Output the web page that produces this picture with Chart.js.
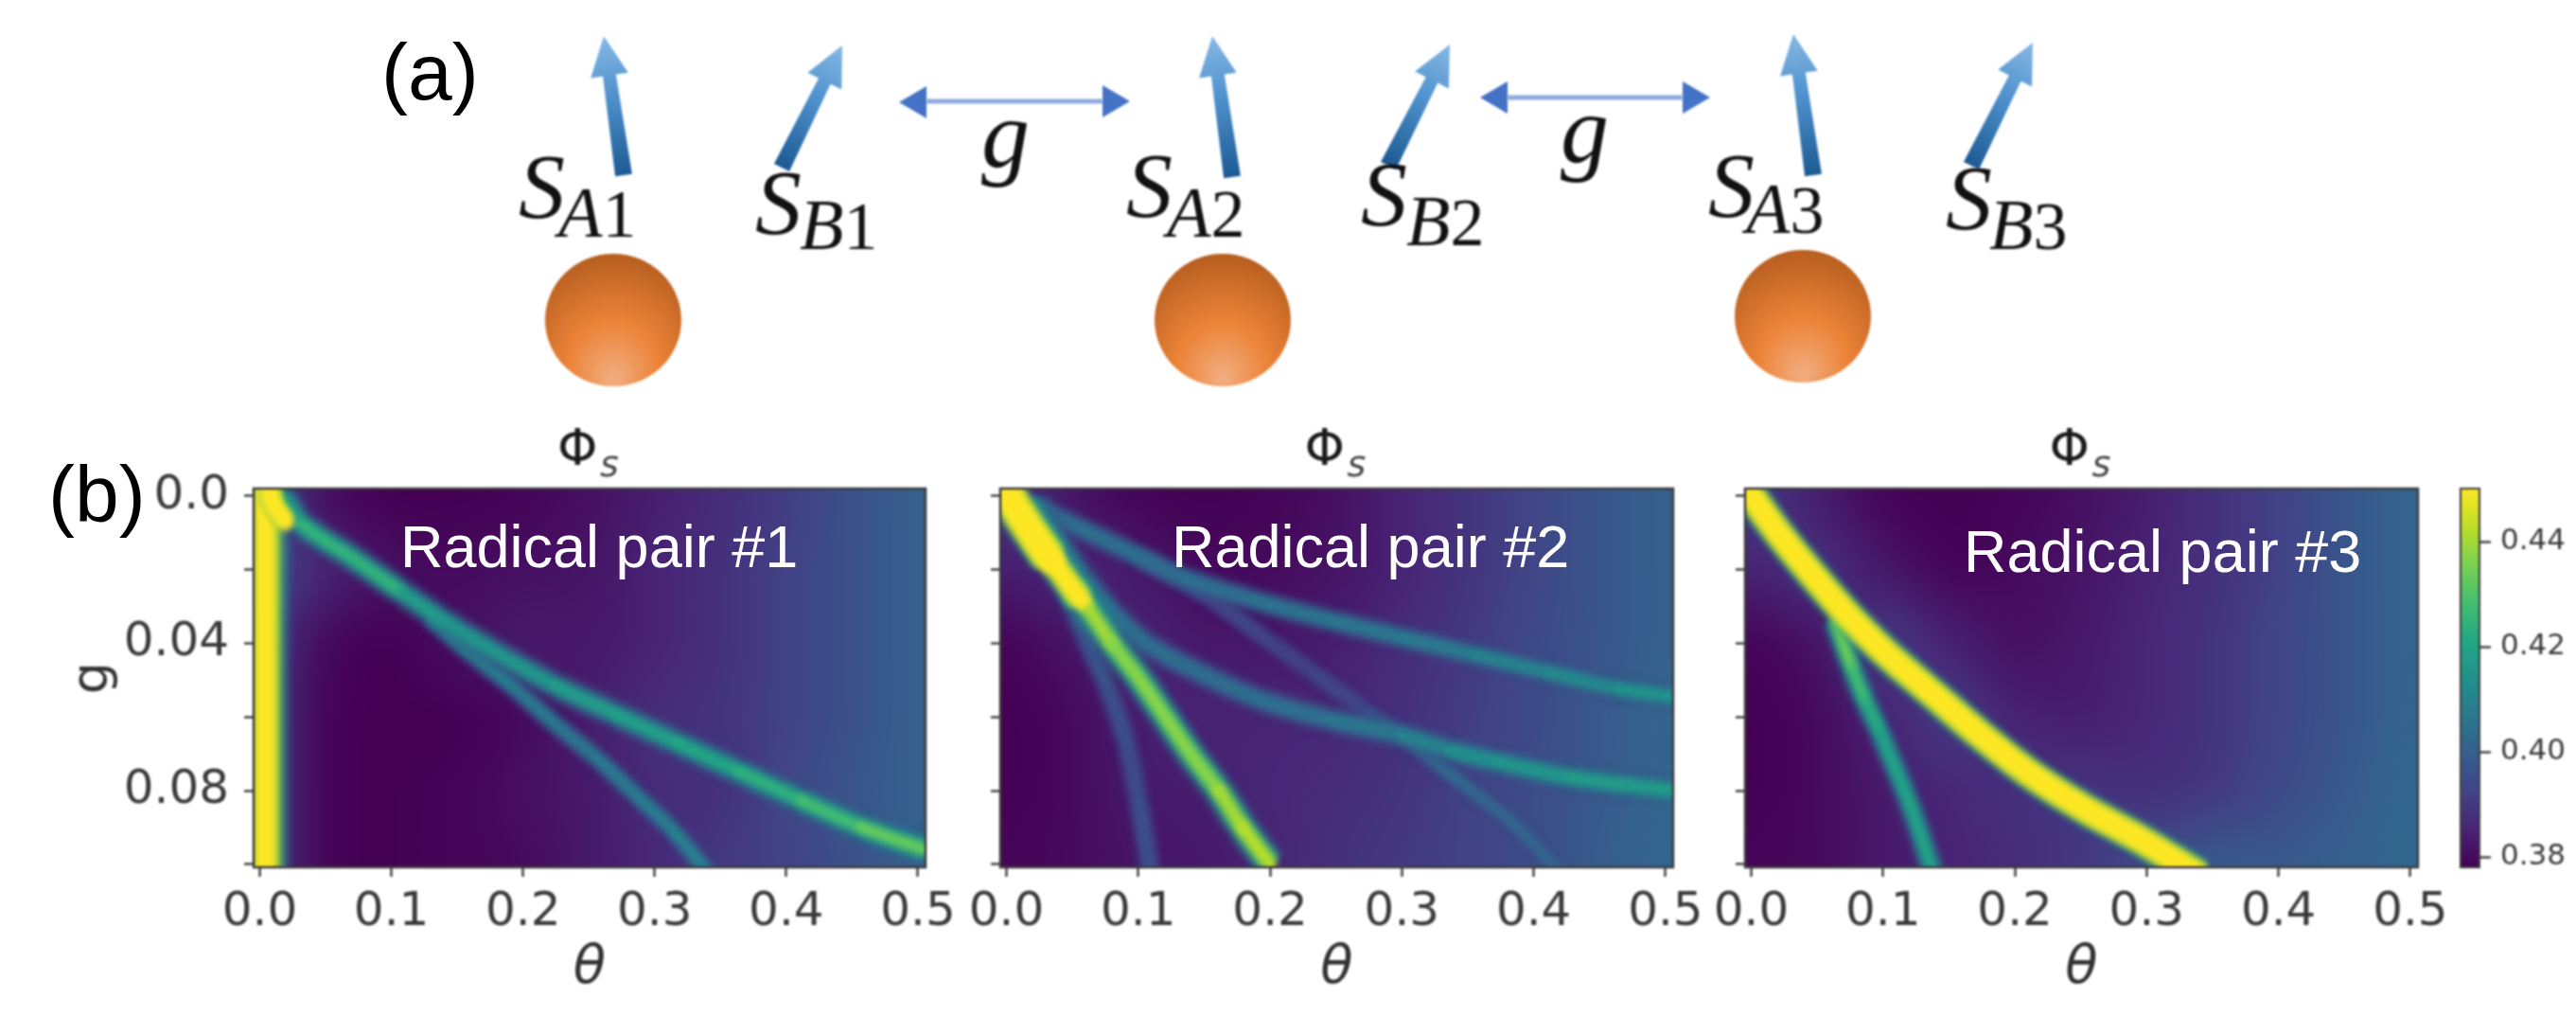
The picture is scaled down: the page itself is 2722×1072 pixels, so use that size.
<!DOCTYPE html>
<html>
<head>
<meta charset="utf-8">
<title>Radical pairs</title>
<script src="https://cdn.jsdelivr.net/npm/chart.js@4"></script>
<style>
  html, body { margin: 0; padding: 0; background: #fff; width: 2722px; height: 1072px; overflow: hidden; }
  canvas { position: absolute; }
  .soft { filter: blur(1.3px); }
</style>
</head>
<body>
<script>
// axis ticks
const thetaTicks = [0, 0.1, 0.2, 0.3, 0.4, 0.5];
const gTicks = [0, 0.02, 0.04, 0.06, 0.08, 0.1];
const gTickLabels = ["0.0", "", "0.04", "", "0.08", ""];
const barTicks = [0.38, 0.4, 0.42, 0.44];
const barMin = 0.3781;
const barMax = 0.4501;

// background of each panel, read at every theta = 0, 0.05 .. 0.5 (columns) and g = 0, 0.02 .. 0.1 (rows)
const panel1Grid = [
  [0.395, 0.381, 0.378, 0.378, 0.379, 0.381, 0.384, 0.387, 0.391, 0.396, 0.4],
  [0.395, 0.385, 0.381, 0.38, 0.381, 0.382, 0.385, 0.388, 0.392, 0.396, 0.4],
  [0.39, 0.38, 0.378, 0.381, 0.383, 0.383, 0.385, 0.388, 0.392, 0.396, 0.4],
  [0.39, 0.379, 0.378, 0.378, 0.38, 0.384, 0.387, 0.389, 0.392, 0.396, 0.4],
  [0.39, 0.379, 0.378, 0.379, 0.381, 0.383, 0.387, 0.388, 0.393, 0.397, 0.4],
  [0.39, 0.379, 0.378, 0.379, 0.38, 0.383, 0.386, 0.39, 0.392, 0.396, 0.4],
];
const panel2Grid = [
  [0.39, 0.382, 0.379, 0.378, 0.379, 0.381, 0.385, 0.389, 0.393, 0.397, 0.4],
  [0.384, 0.386, 0.383, 0.38, 0.38, 0.382, 0.385, 0.389, 0.393, 0.397, 0.4],
  [0.379, 0.382, 0.385, 0.383, 0.383, 0.384, 0.387, 0.39, 0.394, 0.397, 0.4],
  [0.378, 0.38, 0.384, 0.385, 0.385, 0.386, 0.388, 0.391, 0.394, 0.398, 0.401],
  [0.378, 0.38, 0.383, 0.384, 0.386, 0.387, 0.389, 0.392, 0.395, 0.398, 0.401],
  [0.379, 0.38, 0.382, 0.383, 0.385, 0.388, 0.39, 0.392, 0.395, 0.399, 0.402],
];
const panel3Grid = [
  [0.39, 0.384, 0.379, 0.378, 0.379, 0.381, 0.384, 0.388, 0.392, 0.397, 0.401],
  [0.385, 0.388, 0.383, 0.379, 0.38, 0.382, 0.385, 0.388, 0.392, 0.397, 0.401],
  [0.379, 0.382, 0.39, 0.385, 0.381, 0.383, 0.386, 0.389, 0.393, 0.397, 0.401],
  [0.378, 0.38, 0.385, 0.39, 0.385, 0.384, 0.386, 0.389, 0.393, 0.397, 0.401],
  [0.378, 0.38, 0.383, 0.386, 0.388, 0.389, 0.388, 0.39, 0.394, 0.398, 0.402],
  [0.379, 0.38, 0.383, 0.385, 0.387, 0.39, 0.394, 0.398, 0.398, 0.4, 0.402],
];

// ridges, panel 1
const p1BandTheta = [0.004, 0.004, 0.004, 0.004, 0.004, 0.004];
const p1BandG = [-0.003, 0.02, 0.04, 0.06, 0.08, 0.103];
const p1BandPeak = [0.46, 0.46, 0.46, 0.46, 0.46, 0.46];
const p1BlobTheta = [0.006, 0.01, 0.019];
const p1BlobG = [-0.003, 0.002, 0.0068];
const p1BlobPeak = [0.46, 0.46, 0.45];
const p1MainTheta = [0.018, 0.032, 0.069, 0.107, 0.139, 0.177, 0.224, 0.27, 0.317, 0.364, 0.411, 0.457, 0.506];
const p1MainG = [0.0004, 0.0077, 0.0165, 0.0259, 0.0337, 0.042, 0.0514, 0.0592, 0.067, 0.0748, 0.0826, 0.0899, 0.0961];
const p1MainPeak = [0.42, 0.425, 0.425, 0.418, 0.416, 0.416, 0.418, 0.419, 0.421, 0.424, 0.428, 0.433, 0.44];
const p1SideTheta = [0.13, 0.158, 0.191, 0.224, 0.256, 0.287, 0.314, 0.342];
const p1SideG = [0.033, 0.042, 0.0514, 0.0618, 0.0712, 0.0816, 0.0909, 0.103];
const p1SidePeak = [0.412, 0.41, 0.408, 0.407, 0.408, 0.409, 0.41, 0.41];

// ridges, panel 2
const p2HeadTheta = [-0.003, 0.005, 0.021, 0.033];
const p2HeadG = [-0.004, 0.002, 0.0108, 0.017];
const p2HeadPeak = [0.46, 0.46, 0.46, 0.46];
const p2NeckTheta = [0.021, 0.04, 0.056];
const p2NeckG = [0.0108, 0.0202, 0.028];
const p2NeckPeak = [0.46, 0.46, 0.45];
const p2TailTheta = [0.05, 0.06, 0.08, 0.1, 0.12, 0.14, 0.161, 0.179, 0.2];
const p2TailG = [0.025, 0.0295, 0.04, 0.0493, 0.0597, 0.0701, 0.08, 0.0899, 0.1];
const p2TailPeak = [0.45, 0.44, 0.437, 0.437, 0.437, 0.437, 0.44, 0.442, 0.445];
const p2TopTheta = [0.025, 0.062, 0.098, 0.135, 0.19, 0.245, 0.3, 0.355, 0.41, 0.465, 0.506];
const p2TopG = [0.0035, 0.0098, 0.016, 0.0223, 0.0285, 0.0337, 0.0384, 0.0431, 0.0478, 0.0524, 0.0545];
const p2TopPeak = [0.405, 0.405, 0.404, 0.405, 0.406, 0.407, 0.408, 0.41, 0.412, 0.415, 0.418];
const p2MidTheta = [0.021, 0.054, 0.08, 0.106, 0.142, 0.19, 0.245, 0.3, 0.337, 0.373, 0.428, 0.506];
const p2MidG = [0.0015, 0.0202, 0.0316, 0.04, 0.0472, 0.055, 0.0607, 0.0649, 0.0691, 0.0722, 0.0764, 0.08];
const p2MidPeak = [0.408, 0.407, 0.405, 0.404, 0.404, 0.405, 0.407, 0.41, 0.414, 0.416, 0.418, 0.422];
const p2FaintTheta = [0.098, 0.153, 0.197, 0.234, 0.274, 0.311, 0.351, 0.384, 0.422];
const p2FaintG = [0.016, 0.0275, 0.0389, 0.0483, 0.0587, 0.0681, 0.0795, 0.0888, 0.103];
const p2FaintPeak = [0.395, 0.393, 0.392, 0.393, 0.396, 0.403, 0.402, 0.402, 0.402];
const p2LowTheta = [0.04, 0.058, 0.076, 0.091, 0.1, 0.11];
const p2LowG = [0.0202, 0.0368, 0.0514, 0.067, 0.0826, 0.103];
const p2LowPeak = [0.4, 0.397, 0.396, 0.395, 0.396, 0.398];

// ridges, panel 3
const p3MainTheta = [-0.006, 0.02, 0.046, 0.074, 0.1, 0.137, 0.174, 0.211, 0.252, 0.294, 0.34];
const p3MainG = [-0.003, 0.0098, 0.0212, 0.0327, 0.042, 0.0535, 0.0649, 0.0753, 0.0847, 0.093, 0.103];
const p3MainPeak = [0.46, 0.46, 0.46, 0.46, 0.46, 0.46, 0.46, 0.46, 0.46, 0.46, 0.46];
const p3SideTheta = [0.0635, 0.076, 0.0865, 0.096, 0.106, 0.1145, 0.1245, 0.1385];
const p3SideG = [0.0337, 0.0462, 0.0556, 0.0628, 0.0712, 0.0784, 0.0878, 0.103];
const p3SidePeak = [0.434, 0.428, 0.423, 0.42, 0.42, 0.42, 0.42, 0.42];

// viridis at 0, 0.1 .. 1
const viridisStops = [[68, 1, 84], [72, 36, 117], [65, 68, 135], [53, 95, 141], [42, 120, 142], [33, 145, 140], [34, 168, 132], [68, 191, 112], [122, 209, 81], [189, 223, 38], [253, 231, 37]];

function viridis(v) {
  let t = (v - barMin) / (barMax - barMin);
  t = Math.max(0, Math.min(1, t)) * 10;
  const i = Math.min(9, Math.floor(t));
  const f = t - i;
  return viridisStops[i].map((c, k) => Math.round(c + (viridisStops[i + 1][k] - c) * f));
}
function rgba(v, a) {
  const c = viridis(v);
  return "rgba(" + c[0] + "," + c[1] + "," + c[2] + "," + a + ")";
}

const numberFont = "'DejaVu Sans'";
const inkColor = "#3a3a3a";
const panelTop = 516;
const panelBottom = 916;
const panelLeftRoom = 203;
const panelRightRoom = 60;

const panels = [
  {
    id: "p1", left: 268, right: 978, grid: panel1Grid, showG: true,
    ridges: [
      { t: p1SideTheta, g: p1SideG, p: p1SidePeak, w: 8, extra: 18 },
      { t: p1MainTheta, g: p1MainG, p: p1MainPeak, w: 11, extra: 24 },
      { t: p1BandTheta, g: p1BandG, p: p1BandPeak, w: 21, extra: 34 },
      { t: p1BlobTheta, g: p1BlobG, p: p1BlobPeak, w: 20, extra: 0 },
    ],
  },
  {
    id: "p2", left: 1057, right: 1768, grid: panel2Grid, showG: false,
    ridges: [
      { t: p2LowTheta, g: p2LowG, p: p2LowPeak, w: 8, extra: 20 },
      { t: p2FaintTheta, g: p2FaintG, p: p2FaintPeak, w: 8, extra: 16 },
      { t: p2TopTheta, g: p2TopG, p: p2TopPeak, w: 10, extra: 20 },
      { t: p2MidTheta, g: p2MidG, p: p2MidPeak, w: 11, extra: 22 },
      { t: p2TailTheta, g: p2TailG, p: p2TailPeak, w: 14, extra: 24 },
      { t: p2NeckTheta, g: p2NeckG, p: p2NeckPeak, w: 20, extra: 18 },
      { t: p2HeadTheta, g: p2HeadG, p: p2HeadPeak, w: 30, extra: 16 },
    ],
  },
  {
    id: "p3", left: 1844, right: 2555, grid: panel3Grid, showG: false,
    ridges: [
      { t: p3SideTheta, g: p3SideG, p: p3SidePeak, w: 10, extra: 20 },
      { t: p3MainTheta, g: p3MainG, p: p3MainPeak, w: 24, extra: 16 },
    ],
  },
];

// heatmap background, placed through the chart's scales
const heatmapPlugin = {
  id: "heatmap",
  beforeDatasetsDraw(chart, args, opts) {
    const grid = opts.grid;
    const rows = grid.length, cols = grid[0].length;
    const off = document.createElement("canvas");
    off.width = cols; off.height = rows;
    const octx = off.getContext("2d");
    const img = octx.createImageData(cols, rows);
    grid.forEach((row, r) => row.forEach((v, c) => {
      const col = viridis(v);
      const k = (r * cols + c) * 4;
      img.data[k] = col[0]; img.data[k + 1] = col[1]; img.data[k + 2] = col[2]; img.data[k + 3] = 255;
    }));
    octx.putImageData(img, 0, 0);
    const x0 = chart.scales.x.getPixelForValue(0), x1 = chart.scales.x.getPixelForValue(0.5);
    const y0 = chart.scales.y.getPixelForValue(0), y1 = chart.scales.y.getPixelForValue(0.1);
    const dx = (x1 - x0) / (cols - 1), dy = (y1 - y0) / (rows - 1);
    const a = chart.chartArea, ctx = chart.ctx;
    ctx.save();
    ctx.beginPath();
    ctx.rect(a.left, a.top, a.width, a.height);
    ctx.clip();
    ctx.imageSmoothingEnabled = true;
    ctx.imageSmoothingQuality = "high";
    ctx.drawImage(off, x0 - dx / 2, y0 - dy / 2, dx * cols, dy * rows);
    ctx.restore();
    // the ridges that follow are painted soft
    ctx.filter = "blur(3px)";
  },
  afterDatasetsDraw(chart) {
    const a = chart.chartArea, ctx = chart.ctx;
    ctx.filter = "none";
    ctx.save();
    ctx.strokeStyle = "#3c3c3c";
    ctx.lineWidth = 2.5;
    ctx.strokeRect(a.left, a.top, a.width, a.height);
    ctx.restore();
  },
  afterDraw(chart) {
    // panel title, Phi with subscript s
    const a = chart.chartArea, ctx = chart.ctx;
    const cx = (a.left + a.right) / 2 - 34;
    ctx.save();
    ctx.fillStyle = "#1a1a1a";
    ctx.textBaseline = "alphabetic";
    ctx.textAlign = "left";
    ctx.font = "54px " + numberFont;
    ctx.fillText("Φ", cx, 51);
    ctx.fillStyle = "#444";
    ctx.font = "italic 38px " + numberFont;
    ctx.fillText("s", cx + 45, 63);
    ctx.restore();
  },
};

// one ridge becomes a few stacked strokes, wide and faint below, narrow and full on top
function ridgeDatasets(r) {
  const points = r.t.map((t, i) => ({ x: t, y: r.g[i] }));
  const layers = [
    { add: 1, mix: 0.3, alpha: 0.3 },
    { add: 0.66, mix: 0.5, alpha: 0.5 },
    { add: 0.33, mix: 0.75, alpha: 0.8 },
    { add: 0, mix: 1, alpha: 1 },
  ];
  return layers.map((l) => ({
    data: points,
    showLine: true,
    pointRadius: 0,
    tension: 0.3,
    clip: 0,
    borderWidth: r.w + r.extra * l.add,
    borderCapStyle: l.alpha === 1 ? "round" : "butt",
    borderColor: rgba(r.p[0], l.alpha),
    segment: {
      borderColor: (ctx) => {
        const v = r.p[ctx.p0DataIndex];
        return rgba(0.39 + (v - 0.39) * l.mix, l.alpha);
      },
    },
  }));
}

function addCanvas(id, left, top, width, height, soft) {
  const c = document.createElement("canvas");
  c.id = id;
  c.width = width; c.height = height;
  c.style.left = left + "px"; c.style.top = top + "px";
  c.style.width = width + "px"; c.style.height = height + "px";
  if (soft) c.className = "soft";
  document.body.appendChild(c);
  return c.getContext("2d");
}

panels.forEach((p) => {
  const canvasLeft = p.left - panelLeftRoom;
  const canvasTop = 440;
  const width = panelLeftRoom + (p.right - p.left) + panelRightRoom;
  const ctx = addCanvas(p.id, canvasLeft, canvasTop, width, 632, true);
  let datasets = [];
  p.ridges.forEach((r) => { datasets = datasets.concat(ridgeDatasets(r)); });
  datasets.reverse(); // chart.js paints the first dataset last
  new Chart(ctx, {
    type: "scatter",
    data: { datasets: datasets },
    plugins: [heatmapPlugin],
    options: {
      responsive: false,
      animation: false,
      devicePixelRatio: 1,
      layout: { padding: { top: panelTop - canvasTop, right: panelRightRoom, left: 0, bottom: 0 } },
      plugins: { legend: { display: false }, tooltip: { enabled: false }, heatmap: { grid: p.grid } },
      scales: {
        x: {
          type: "linear",
          min: -0.0047,
          max: 0.5058,
          afterBuildTicks: (axis) => { axis.ticks = thetaTicks.map((v) => ({ value: v })); },
          afterFit: (axis) => { axis.height = 1072 - panelBottom; },
          grid: { drawOnChartArea: false, drawTicks: true, tickLength: 10, tickColor: "#444", tickWidth: 2.5 },
          border: { display: false },
          ticks: {
            callback: (v) => v.toFixed(1),
            autoSkip: false,
            maxRotation: 0,
            padding: 8,
            color: inkColor,
            font: { family: numberFont, size: 50 },
          },
          title: {
            display: true,
            text: "θ",
            color: "#333",
            font: { family: numberFont, size: 56, style: "italic" },
            padding: { top: 0, bottom: 15 },
          },
        },
        y: {
          type: "linear",
          reverse: true,
          min: -0.002,
          max: 0.1008,
          afterBuildTicks: (axis) => { axis.ticks = gTicks.map((v) => ({ value: v })); },
          afterFit: (axis) => { axis.width = panelLeftRoom; },
          grid: { drawOnChartArea: false, drawTicks: true, tickLength: 10, tickColor: "#444", tickWidth: 2.5 },
          border: { display: false },
          ticks: {
            callback: (v, i) => (p.showG ? gTickLabels[i] : ""),
            autoSkip: false,
            padding: 16,
            color: inkColor,
            font: { family: numberFont, size: 50 },
          },
          title: {
            display: p.showG,
            text: "g",
            color: "#333",
            font: { family: numberFont, size: 54 },
            padding: 2,
          },
        },
      },
    },
  });
});

// colour bar
const barCtx = addCanvas("colorbar", 2590, 440, 132, 632, true);
new Chart(barCtx, {
  type: "bar",
  data: {
    labels: ["Φs"],
    datasets: [{
      data: [[barMin, barMax]],
      barPercentage: 1,
      categoryPercentage: 1,
      backgroundColor: (c) => {
        const a = c.chart.chartArea;
        if (!a) return "#444";
        const grad = c.chart.ctx.createLinearGradient(0, a.bottom, 0, a.top);
        viridisStops.forEach((s, i) => grad.addColorStop(i / 10, "rgb(" + s.join(",") + ")"));
        return grad;
      },
    }],
  },
  plugins: [{
    id: "barFrame",
    afterDatasetsDraw(chart) {
      const a = chart.chartArea, ctx = chart.ctx;
      ctx.save();
      ctx.strokeStyle = "#3c3c3c";
      ctx.lineWidth = 2;
      ctx.strokeRect(a.left, a.top, a.width, a.height);
      ctx.restore();
    },
  }],
  options: {
    responsive: false,
    animation: false,
    devicePixelRatio: 1,
    layout: { padding: { left: 10, top: panelTop - 440, right: 0, bottom: 1072 - panelBottom } },
    plugins: { legend: { display: false }, tooltip: { enabled: false } },
    scales: {
      x: { display: false },
      y: {
        position: "right",
        min: barMin,
        max: barMax,
        afterBuildTicks: (axis) => { axis.ticks = barTicks.map((v) => ({ value: v })); },
        afterFit: (axis) => { axis.width = 102; },
        grid: { drawOnChartArea: false, drawTicks: true, tickLength: 12, tickColor: "#444", tickWidth: 2.5 },
        border: { display: false },
        ticks: {
          callback: (v) => v.toFixed(2),
          padding: 10,
          color: inkColor,
          font: { family: numberFont, size: 31 },
        },
      },
    },
  },
});

// schematic of part (a) and the written labels, on a page sized chart
const spinArrows = [
  [659, 185, 638, 38], [826, 177, 890, 48],
  [1302, 187, 1281, 38], [1467, 175, 1532, 47],
  [1916, 185, 1895, 36], [2083, 175, 2148, 45],
];
const couplingArrows = [[950, 108, 1194, 107], [1564, 103, 1807, 103]];
const spheres = [[648, 338], [1292, 338], [1905, 334]];
const spinLabels = [
  ["A", "1", 548, 230, 590, 250], ["B", "1", 798, 247, 845, 263],
  ["A", "2", 1190, 229, 1233, 250], ["B", "2", 1438, 238, 1486, 259],
  ["A", "3", 1805, 229, 1845, 246], ["B", "3", 2056, 242, 2102, 263],
];
const couplingLabels = [[1037, 176], [1649, 171]];
const pairLabels = [["Radical pair #1", 423, 599], ["Radical pair #2", 1238, 599], ["Radical pair #3", 2075, 604]];
const partLabels = [["(a)", 403, 105], ["(b)", 51, 551]];

function drawSpinArrow(ctx, a) {
  const dx = a[2] - a[0], dy = a[3] - a[1];
  const len = Math.hypot(dx, dy);
  const ux = dx / len, uy = dy / len, nx = -uy, ny = ux;
  const pt = (along, side) => [a[0] + ux * along + nx * side, a[1] + uy * along + ny * side];
  const neck = len - 42;
  const shape = [pt(0, 9), pt(neck, 7), pt(neck, 20), pt(len, 0), pt(neck, -20), pt(neck, -7), pt(0, -9)];
  const grad = ctx.createLinearGradient(a[0], a[1], a[2], a[3]);
  grad.addColorStop(0, "#1c5a92");
  grad.addColorStop(0.55, "#4d90cc");
  grad.addColorStop(1, "#86b8e4");
  ctx.fillStyle = grad;
  ctx.beginPath();
  shape.forEach((s, i) => (i ? ctx.lineTo(s[0], s[1]) : ctx.moveTo(s[0], s[1])));
  ctx.closePath();
  ctx.fill();
}

function drawCoupling(ctx, a) {
  const head = 29, half = 17;
  ctx.fillStyle = "#8fa9de";
  ctx.fillRect(a[0] + head, Math.min(a[1], a[3]) - 2.5, a[2] - a[0] - 2 * head, 5);
  ctx.fillStyle = "#4472c4";
  ctx.beginPath();
  ctx.moveTo(a[0], a[1]); ctx.lineTo(a[0] + head, a[1] - half); ctx.lineTo(a[0] + head, a[1] + half); ctx.closePath();
  ctx.moveTo(a[2], a[3]); ctx.lineTo(a[2] - head, a[3] - half); ctx.lineTo(a[2] - head, a[3] + half); ctx.closePath();
  ctx.fill();
}

function drawSphere(ctx, s) {
  const grad = ctx.createRadialGradient(s[0], s[1] + 62, 4, s[0], s[1] + 30, 112);
  grad.addColorStop(0, "#f2ab7c");
  grad.addColorStop(0.4, "#ec8338");
  grad.addColorStop(1, "#ae581b");
  ctx.fillStyle = grad;
  ctx.beginPath();
  ctx.ellipse(s[0], s[1], 72, 70, 0, 0, Math.PI * 2);
  ctx.fill();
}

const overlayPlugin = {
  id: "overlay",
  afterDraw(chart) {
    const ctx = chart.ctx;
    ctx.save();
    ctx.filter = "blur(1.2px)";
    spinArrows.forEach((a) => drawSpinArrow(ctx, a));
    couplingArrows.forEach((a) => drawCoupling(ctx, a));
    spheres.forEach((s) => drawSphere(ctx, s));
    ctx.fillStyle = "#111";
    ctx.textAlign = "left";
    ctx.textBaseline = "alphabetic";
    spinLabels.forEach((l) => {
      ctx.font = "italic 98px 'Liberation Serif'";
      ctx.fillText("S", l[2], l[3]);
      ctx.font = "italic 76px 'Liberation Serif'";
      ctx.fillText(l[0], l[4], l[5]);
      const w = ctx.measureText(l[0]).width;
      ctx.font = "72px 'Liberation Serif'";
      ctx.fillText(l[1], l[4] + w, l[5]);
    });
    ctx.font = "italic 102px 'Liberation Serif'";
    couplingLabels.forEach((l) => ctx.fillText("g", l[0], l[1]));
    ctx.filter = "none";
    ctx.fillStyle = "#fff";
    ctx.font = "63px 'Liberation Sans'";
    pairLabels.forEach((l) => ctx.fillText(l[0], l[1], l[2]));
    ctx.fillStyle = "#000";
    ctx.font = "84px 'Liberation Sans'";
    partLabels.forEach((l) => ctx.fillText(l[0], l[1], l[2]));
    ctx.restore();
  },
};

new Chart(addCanvas("overlay", 0, 0, 2722, 1072, false), {
  type: "scatter",
  data: { datasets: [] },
  plugins: [overlayPlugin],
  options: {
    responsive: false,
    animation: false,
    devicePixelRatio: 1,
    layout: { padding: 0 },
    plugins: { legend: { display: false }, tooltip: { enabled: false } },
    scales: { x: { display: false }, y: { display: false } },
  },
});
</script>
</body>
</html>
